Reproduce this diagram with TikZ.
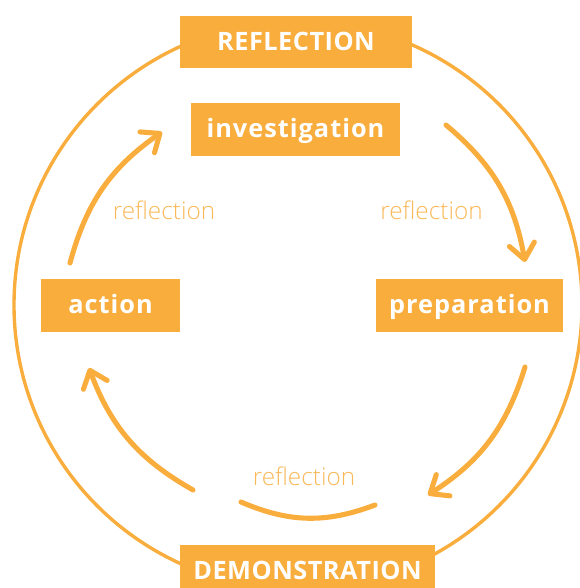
\documentclass[tikz,border=0pt]{standalone}
\usepackage{fontspec}
\setmainfont{Open Sans}
\newfontfamily\boldfont[LetterSpace=4]{Open Sans Bold}
\newfontfamily\capsfont[LetterSpace=2]{Open Sans Bold}
\newfontfamily\lightfont{Open Sans Light}
\usetikzlibrary{arrows.meta}
\definecolor{cycleorange}{HTML}{F8AD3D}

\begin{document}
\begin{tikzpicture}[
  x=0.025cm, y=0.025cm,
  phase/.style={fill=cycleorange, text=white, inner sep=0pt, minimum height=1.3cm,
    font=\fontsize{18}{20}\selectfont\boldfont, text height=14pt, text depth=2pt},
  heading/.style={phase, font=\fontsize{18}{20}\selectfont\capsfont},
  note/.style={text=cycleorange!85, font=\fontsize{17.3}{19}\selectfont\lightfont},
  turn/.style={cycleorange, line width=3.6pt, line cap=round},
  tip/.style={-{Straight Barb[length=11pt, width=18pt, round]}}
]
\useasboundingbox (0,0) rectangle (580,588);
% outer ring, the boxes sit on top of it
\draw[cycleorange, line width=2.4pt] (298,283) circle (284);

\node[heading, minimum width=5.8cm] (refl) at (296,545.7) {REFLECTION};
\node[heading, minimum width=6.375cm] (demo) at (307.5,17) {DEMONSTRATION};
\node[phase, minimum width=5.225cm] (inv) at (295.5,458.5) {investigation};
\node[phase, minimum width=4.675cm] (prep) at (469.5,282.5) {preparation};
\node[phase, minimum width=3.475cm] (act) at (110.5,282.5) {action};

% inner cycle
\coordinate (tl0) at (70,325);  \coordinate (tl1) at (162,456);
\coordinate (tr0) at (446,463); \coordinate (tr1) at (525,326);
\coordinate (br0) at (525,221); \coordinate (br1) at (428,93);
\coordinate (bl0) at (193,98);  \coordinate (bl1) at (89,220);
\coordinate (bm0) at (241,86);  \coordinate (bm1) at (375,83);
\draw[turn, tip] (tl0) to[bend left=20] (tl1);
\draw[turn, tip] (tr0) to[bend left=20] (tr1);
\draw[turn, tip] (br0) to[bend left=20] (br1);
\draw[turn, tip] (bl0) to[bend left=20] (bl1);
\draw[turn] (bm0) to[bend right=22] (bm1);

\node[note] (n1) at (164,378) {reflection};
\node[note] (n2) at (431.5,378) {reflection};
\node[note] (n3) at (304,111.5) {reflection};
\end{tikzpicture}
\end{document}
